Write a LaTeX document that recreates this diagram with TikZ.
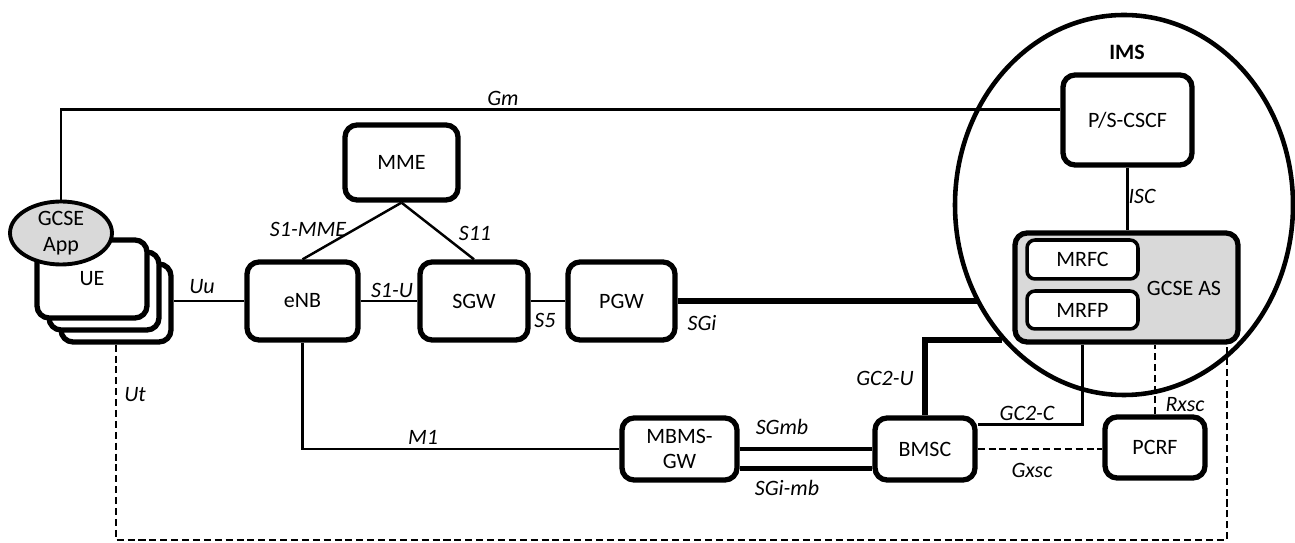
\documentclass[tikz,border=0pt]{standalone}
\usepackage{fontspec}
\setmainfont{Carlito}
\usetikzlibrary{shapes.geometric}

\begin{document}
\begin{tikzpicture}[x=0.02cm,y=-0.02cm,
  every node/.style={font=\fontsize{12.5}{14.5}\selectfont},
  box/.style={draw,line width=3pt,rounded corners=0.24cm,fill=white,align=center,inner sep=0pt},
  subbox/.style={draw,line width=2pt,rounded corners=0.16cm,fill=white,inner sep=0pt},
  lnk/.style={line width=1.4pt},
  fat/.style={line width=3pt},
  dsh/.style={line width=1.4pt,dash pattern=on 4pt off 2.2pt},
  lbl/.style={font=\fontsize{12.5}{14.5}\selectfont\itshape}]
\useasboundingbox (0,0) rectangle (1295,543);

% IMS domain
\draw[line width=2.6pt] (1124,205) ellipse [x radius=169, y radius=190];
\node[font=\fontsize{12.5}{14.5}\selectfont\bfseries] (ims) at (1127,52) {IMS};

% UE stack
\node[box,minimum width=2.2cm,minimum height=1.56cm] (ue3) at (116,303) {};
\node[box,minimum width=2.2cm,minimum height=1.56cm] (ue2) at (104,291) {};
\node[box,minimum width=2.2cm,minimum height=1.56cm] (ue) at (92,279) {UE};
\node[ellipse,draw,fill=gray!30,line width=2.2pt,minimum width=2.04cm,minimum height=1.26cm,
      inner sep=0pt,align=center] (app) at (61,233) {GCSE\\App};

% EPC
\node[box,minimum width=2.22cm,minimum height=1.56cm] (enb) at (302.5,301) {eNB};
\node[box,minimum width=2.26cm,minimum height=1.5cm] (mme) at (401.5,162.5) {MME};
\node[box,minimum width=2.16cm,minimum height=1.56cm] (sgw) at (474,301) {SGW};
\node[box,minimum width=2.14cm,minimum height=1.56cm] (pgw) at (621.5,301) {PGW};
\node[box,minimum width=2.3cm,minimum height=1.24cm] (mbms) at (679.5,449) {MBMS-\\GW};
\node[box,minimum width=2.0cm,minimum height=1.24cm] (bmsc) at (925,449) {BMSC};
\node[box,minimum width=2.0cm,minimum height=1.22cm] (pcrf) at (1155,447.5) {PCRF};

% IMS nodes
\node[box,minimum width=2.58cm,minimum height=1.8cm] (cscf) at (1127.5,120) {P/S-CSCF};
\node[box,fill=gray!30,minimum width=4.46cm,minimum height=2.18cm] (gcseas) at (1126.5,287.5) {};
\node (gcsetxt) at (1184,288) {GCSE AS};
\node[subbox,minimum width=2.22cm,minimum height=0.78cm] (mrfc) at (1082.5,259.5) {MRFC};
\node[subbox,minimum width=2.22cm,minimum height=0.76cm] (mrfp) at (1082.5,310) {MRFP};

% end points on the IMS border
\coordinate (sgiend) at (979,301);
\coordinate (gcuend) at (1002,340);
\coordinate (utcorner) at (1227,540);

% interfaces
\draw[lnk] (app.north) |- (cscf.171);
\draw[lnk] (enb.west) -- (enb.west -| ue3.east);
\draw[lnk] (mme.south) -- (enb.north);
\draw[lnk] (mme.south) -- (sgw.north);
\draw[lnk] (enb.east) -- (sgw.west);
\draw[lnk] (sgw.east) -- (pgw.west);
\draw[fat] (pgw.east) -- (sgiend);
\draw[lnk] (enb.south) |- (mbms.west);
\draw[line width=2.2pt] (mbms.east) -- (bmsc.west);
\draw[fat] (mbms.-18) -- (mbms.-18 -| bmsc.west);
\draw[fat] (bmsc.north) |- (gcuend);
\draw[lnk] (gcseas.south -| mrfp.south) |- (bmsc.25);
\draw[lnk] (cscf.south) -- (gcseas.north -| cscf.south);
\draw[dsh] (pcrf.north) -- (pcrf.north |- gcseas.south);
\draw[dsh] (bmsc.east) -- (bmsc.east -| pcrf.west);
\draw[dsh] (ue3.south) |- (utcorner) -- (utcorner |- gcseas.south);

% interface labels
\node[lbl] (lGm) at (503,98) {Gm};
\node[lbl] (lUu) at (202,287) {Uu};
\node[lbl] (lS1mme) at (308,229) {S1-MME};
\node[lbl] (lS11) at (475,233) {S11};
\node[lbl] (lS1u) at (392,290) {S1-U};
\node[lbl] (lS5) at (545,320) {S5};
\node[lbl] (lSGi) at (702,323) {SGi};
\node[lbl] (lUt) at (135,395) {Ut};
\node[lbl] (lM1) at (423,437) {M1};
\node[lbl] (lSGmb) at (782,427) {SGmb};
\node[lbl] (lSGimb) at (787,488) {SGi-mb};
\node[lbl] (lGC2u) at (885,378) {GC2-U};
\node[lbl] (lGC2c) at (1027,413) {GC2-C};
\node[lbl] (lGxsc) at (1032,470) {Gxsc};
\node[lbl] (lRxsc) at (1185,405) {Rxsc};
\node[lbl] (lISC) at (1142,196) {ISC};
\end{tikzpicture}
\end{document}
